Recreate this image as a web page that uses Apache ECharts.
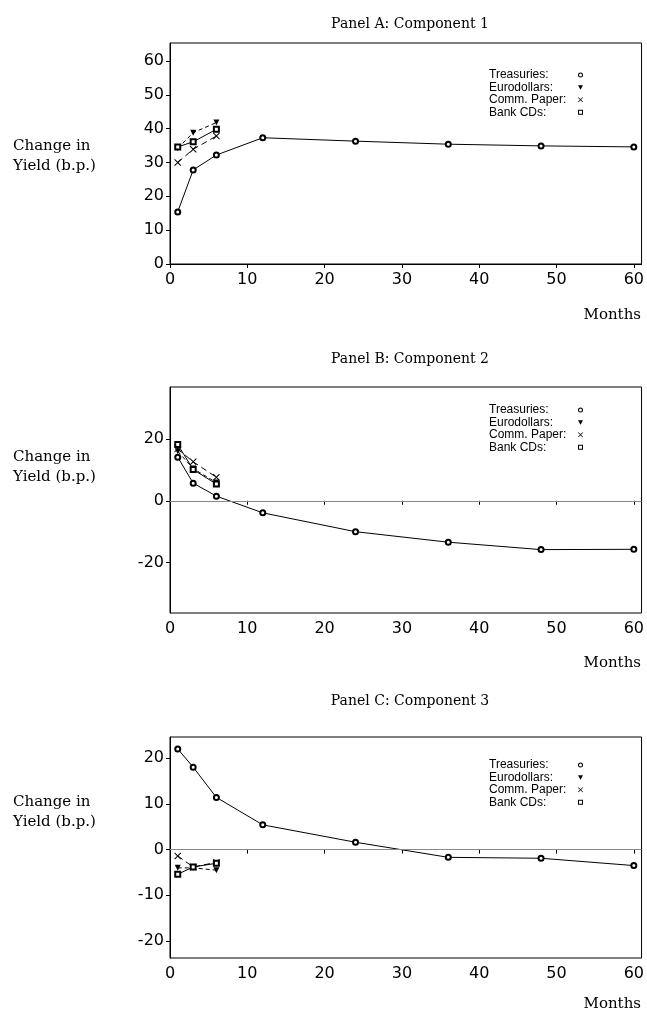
<!DOCTYPE html>
<html>
<head>
<meta charset="utf-8">
<script src="https://cdn.jsdelivr.net/npm/echarts@6/dist/echarts.min.js"></script>
<style>
html, body { margin: 0; padding: 0; background: #fff; }
#main { width: 647px; height: 1011px; }
</style>
</head>
<body>
<div id="main"></div>
<script>
// maturities (months)
var months = [1, 3, 6, 12, 24, 36, 48, 60];
var shortMonths = [1, 3, 6];
var seriesNames = ['Treasuries:', 'Eurodollars:', 'Comm. Paper:', 'Bank CDs:'];
var panelTitles = ['Panel A: Component 1', 'Panel B: Component 2', 'Panel C: Component 3'];

// Panel A
var treasA = [15.4, 27.8, 32.2, 37.3, 36.3, 35.4, 34.9, 34.6];
var euroA = [34.2, 38.8, 41.8];
var cpA = [30.0, 33.9, 37.8];
var cdsA = [34.6, 36.1, 39.8];
// Panel B
var treasB = [14.1, 5.7, 1.5, -3.9, -10.0, -13.4, -15.8, -15.7];
var euroB = [16.0, 10.4, 5.9];
var cpB = [16.8, 12.6, 7.6];
var cdsB = [18.2, 10.1, 5.4];
// Panel C
var treasC = [22.0, 18.0, 11.4, 5.4, 1.6, -1.7, -1.9, -3.5];
var euroC = [-4.0, -4.0, -4.5];
var cpC = [-1.4, -3.8, -2.8];
var cdsC = [-5.4, -3.8, -3.0];

var xTicks = [0, 10, 20, 30, 40, 50, 60];
var yTicksA = [0, 10, 20, 30, 40, 50, 60];
var yTicksB = [-20, 0, 20];
var yTicksC = [-20, -10, 0, 10, 20];

var panels = [
  { top: 43, height: 221, ymin: 0, ymax: 65.3, yTicks: yTicksA, zero: false,
    data: [treasA, euroA, cpA, cdsA], titleTop: 12, labelTop: 131, monthsTop: 303, legendTop: 64 },
  { top: 387, height: 226, ymin: -36.3, ymax: 36.8, yTicks: yTicksB, zero: true,
    data: [treasB, euroB, cpB, cdsB], titleTop: 347, labelTop: 442, monthsTop: 651, legendTop: 399 },
  { top: 737, height: 221, ymin: -23.7, ymax: 24.6, yTicks: yTicksC, zero: true,
    data: [treasC, euroC, cpC, cdsC], titleTop: 689, labelTop: 787, monthsTop: 992, legendTop: 754 }
];

var triDown = 'path://M0,0L10,0L5,9Z';
var cross = 'path://M0,1L1,0L5,4L9,0L10,1L6,5L10,9L9,10L5,6L1,10L0,9L4,5Z';
var ring = 'path://M5,0A5,5,0,1,1,5,10A5,5,0,1,1,5,0ZM5,2A3,3,0,1,0,5,8A3,3,0,1,0,5,2Z';
var box = 'path://M0,0L10,0L10,10L0,10ZM2,2L2,8L8,8L8,2Z';
var symbols = ['emptyCircle', triDown, cross, 'emptyRect'];
var legendIcons = [ring, triDown, cross, box];
var symbolSizes = [5, 6, 7, 5];
var lineTypes = ['solid', [4, 3], [6, 4], 'solid'];

function pairs(xs, ys) {
  return ys.map(function (y, k) { return [xs[k], y]; });
}

var serif = 'DejaVu Serif';
var grids = [], xAxes = [], yAxes = [], series = [], legends = [], titles = [];

panels.forEach(function (p, i) {
  grids.push({ left: 170, width: 472, top: p.top, height: p.height,
    show: true, borderColor: '#000', borderWidth: 1 });

  xAxes.push({
    gridIndex: i, type: 'value', min: 0, max: 61,
    axisLine: { lineStyle: { color: '#000', width: 1 } },
    axisTick: { length: 4, customValues: xTicks, lineStyle: { color: '#000' } },
    axisLabel: { customValues: xTicks, color: '#000', fontFamily: 'DejaVu Sans', fontSize: 16, margin: 8 },
    splitLine: { show: false }
  });
  yAxes.push({
    gridIndex: i, type: 'value', min: p.ymin, max: p.ymax,
    axisLine: { lineStyle: { color: '#000', width: 1 } },
    axisTick: { length: 4, customValues: p.yTicks, lineStyle: { color: '#000' } },
    axisLabel: { customValues: p.yTicks, color: '#000', fontFamily: 'DejaVu Sans', fontSize: 16, margin: 6 },
    splitLine: { show: false }
  });

  p.data.forEach(function (vals, k) {
    var s = {
      name: seriesNames[k], type: 'line', xAxisIndex: i, yAxisIndex: i,
      data: pairs(k === 0 ? months : shortMonths, vals),
      symbol: symbols[k], symbolSize: symbolSizes[k],
      lineStyle: { color: '#000', width: 1, type: lineTypes[k] },
      itemStyle: { color: '#000', borderWidth: 1 },
      z: k === 0 ? 3 : 4,
      animation: false
    };
    if (k === 0 && p.zero) {
      s.markLine = {
        silent: true, symbol: 'none', label: { show: false },
        lineStyle: { color: '#888', width: 1, type: 'solid' },
        data: [{ yAxis: 0 }], animation: false
      };
    }
    series.push(s);
  });

  legends.push({
    orient: 'vertical', left: 484, top: p.legendTop, align: 'right',
    itemGap: 0.4, itemWidth: 5, itemHeight: 5, selectedMode: false,
    formatter: function (n) { return '{t|' + n + '}'; },
    textStyle: {
      color: '#000',
      rich: { t: { fontFamily: 'Liberation Sans', fontSize: 12, color: '#000', width: 84, align: 'left', lineHeight: 12 } }
    },
    data: seriesNames.map(function (n, k) { return { name: n, icon: legendIcons[k] }; })
  });

  titles.push({ text: panelTitles[i], left: 405, textAlign: 'center', top: p.titleTop,
    textStyle: { fontFamily: serif, fontSize: 14, fontWeight: 'normal', color: '#000' } });
  titles.push({ text: 'Change in\nYield (b.p.)', left: 8, top: p.labelTop,
    textStyle: { fontFamily: serif, fontSize: 15, fontWeight: 'normal', color: '#000', lineHeight: 20 } });
  titles.push({ text: 'Months', right: 1, top: p.monthsTop,
    textStyle: { fontFamily: serif, fontSize: 15, fontWeight: 'normal', color: '#000' } });
});

var myChart = echarts.init(document.getElementById('main'));
myChart.setOption({
  backgroundColor: '#fff',
  animation: false,
  title: titles,
  legend: legends,
  grid: grids,
  xAxis: xAxes,
  yAxis: yAxes,
  series: series
});
</script>
</body>
</html>
